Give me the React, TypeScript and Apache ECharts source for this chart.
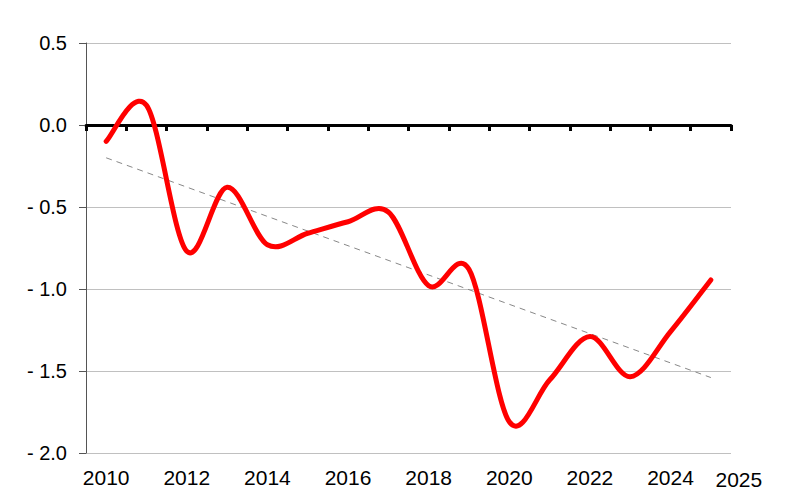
import React, { useEffect, useRef } from "react";
import * as echarts from "echarts";

const years = ["2010","2011","2012","2013","2014","2015","2016","2017","2018","2019","2020","2021","2022","2023","2024","2025"];
const values = [-0.10, 0.12, -0.77, -0.38, -0.73, -0.66, -0.59, -0.53, -0.98, -0.88, -1.81, -1.555, -1.29, -1.535, -1.26, -0.945];
const trendStart = -0.20;
const trendEnd = -1.54;
const yTicks = [-2.0, -1.5, -1.0, -0.5, 0.0, 0.5];
const shownYearLabels = ["2010","2012","2014","2016","2018","2020","2022","2024","2025"];

export default function App() {
  const ref = useRef<HTMLDivElement>(null);
  useEffect(() => {
    if (!ref.current) return;
    const chart = echarts.init(ref.current, null, { renderer: "svg" });
    const font = "'Liberation Sans', Arial, sans-serif";
    chart.setOption({
      animation: false,
      backgroundColor: "#ffffff",
      grid: { left: 86, right: 69, top: 43, bottom: 47, containLabel: false },
      xAxis: [
        {
          type: "category",
          data: years,
          boundaryGap: true,
          axisLine: { show: true, onZero: true, lineStyle: { color: "#000", width: 3 } },
          axisTick: { show: true, interval: 0, length: 6, lineStyle: { color: "#000", width: 3 } },
          axisLabel: { show: false },
          splitLine: { show: false },
        },
        {
          type: "category",
          data: years,
          position: "bottom",
          boundaryGap: true,
          axisLine: { show: false, onZero: false },
          axisTick: { show: false },
          axisLabel: {
            show: true,
            interval: 0,
            margin: 14,
            color: "#000",
            fontFamily: font,
            fontSize: 21,
            formatter: (v: string) => {
              if (!shownYearLabels.includes(v)) return "";
              if (v === "2025") return "{r|" + v + "}";
              return v;
            },
            rich: {
              r: { fontFamily: font, fontSize: 21, color: "#000", padding: [2, 0, 0, 56] },
            },
          },
          splitLine: { show: false },
        },
      ],
      yAxis: {
        type: "value",
        min: yTicks[0],
        max: yTicks[yTicks.length - 1],
        interval: 0.5,
        axisLine: { show: true, lineStyle: { color: "#555", width: 1 } },
        axisTick: { show: true, length: 7, lineStyle: { color: "#555", width: 1 } },
        axisLabel: {
          margin: 19,
          color: "#000",
          fontFamily: font,
          fontSize: 20,
          formatter: (v: number) => (v < 0 ? "- " + Math.abs(v).toFixed(1) : v.toFixed(1)),
        },
        splitLine: { show: true, lineStyle: { color: "#c0c0c0", width: 1 } },
      },
      series: [
        {
          type: "line",
          xAxisIndex: 0,
          data: [[years[0], trendStart], [years[years.length - 1], trendEnd]],
          showSymbol: false,
          symbol: "none",
          lineStyle: { color: "#888", width: 1, type: [6, 5] },
          z: 2,
        },
        {
          type: "custom",
          coordinateSystem: "cartesian2d",
          xAxisIndex: 0,
          yAxisIndex: 0,
          data: values.map((v, i) => [i, v]),
          encode: { x: 0, y: 1 },
          z: 3,
          renderItem: (params: any, api: any) => {
            if (params.dataIndex !== 0) return null;
            const pts = values.map((v, i) => api.coord([i, v]));
            const n = pts.length;
            let d = "M" + pts[0][0] + "," + pts[0][1];
            for (let i = 0; i < n - 1; i++) {
              const p0 = pts[Math.max(i - 1, 0)];
              const p1 = pts[i];
              const p2 = pts[i + 1];
              const p3 = pts[Math.min(i + 2, n - 1)];
              const c1x = p1[0] + (p2[0] - p0[0]) / 6;
              const c1y = p1[1] + (p2[1] - p0[1]) / 6;
              const c2x = p2[0] - (p3[0] - p1[0]) / 6;
              const c2y = p2[1] - (p3[1] - p1[1]) / 6;
              d += " C" + c1x + "," + c1y + " " + c2x + "," + c2y + " " + p2[0] + "," + p2[1];
            }
            return {
              type: "path",
              shape: { pathData: d },
              style: { fill: "none", stroke: "#ff0000", lineWidth: 5, lineCap: "round", lineJoin: "round" },
              silent: true,
            };
          },
        },
      ],
    });
    return () => chart.dispose();
  }, []);
  return <div ref={ref} style={{ position: "fixed", left: 0, top: 0, width: 800, height: 500 }} />;
}
